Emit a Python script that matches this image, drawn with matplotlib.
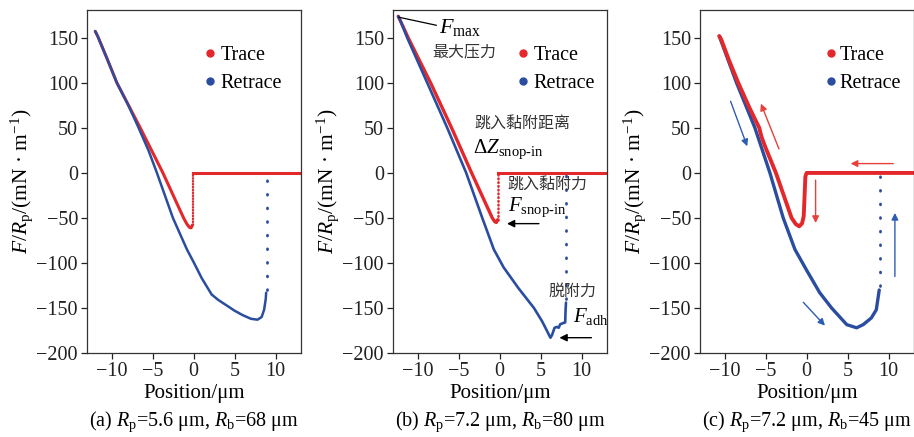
import numpy as np
import matplotlib
matplotlib.use("Agg")
import matplotlib.pyplot as plt
from matplotlib.lines import Line2D

plt.rcParams['font.family'] = ['Liberation Serif', 'Noto Sans CJK SC']
plt.rcParams['mathtext.fontset'] = 'custom'
plt.rcParams['mathtext.rm'] = 'Liberation Serif'
plt.rcParams['mathtext.it'] = 'Liberation Serif:italic'
plt.rcParams['axes.unicode_minus'] = True

RED = '#e3282c'
BLUE = '#2a4d9f'
CJK = ['Noto Sans CJK SC', 'DejaVu Sans']

# ---- panel (a) Rp=5.6, Rb=68
trace_a_x = [-12.0, -11.7, -10.6, -9.35, -6.5, -3.74, -1.22, -0.8, -0.5, -0.3, -0.15]
trace_a_y = [157.4, 152, 128, 100, 50, 0, -50, -57, -60.5, -61, -58]
flat_a_x = [-0.1, 13.2]
flat_a_y = [0, 0]
jump_a_trace = [-0.1, -58, 0]        # x, y from, y to (dotted)
retrace_a_x = [-12.0, -11.7, -10.6, -9.35, -8.0, -6.7, -5.5, -4.47, -2.52, -0.81, 0.0, 1.0, 2.2, 3.0,
               4.0, 5.0, 6.0, 7.0, 7.8, 8.3, 8.6, 8.8, 8.85]
retrace_a_y = [157.4, 152, 128, 100, 76, 50, 25, 0, -50, -85, -99, -117, -135, -141,
               -147, -153, -158, -162, -163, -160, -152, -140, -133]
jump_a_retrace = [8.9, -130, 0]

# ---- panel (b) Rp=7.2, Rb=80
trace_b_x = [-12.36, -12.0, -11.14, -8.41, -5.85, -3.41, -0.89, -0.6, -0.4, -0.25]
trace_b_y = [174, 167, 150, 100, 50, 0, -50, -54, -55, -52]
flat_b_x = [-0.2, 13.2]
flat_b_y = [0, 0]
jump_b_trace = [-0.2, -52, 0]
retrace_b_x = [-12.36, -12.0, -11.26, -8.82, -6.38, -4.07, -2.11, -0.7, 0.5, 2.3, 4.19, 5.2, 6.2,
               6.4, 6.7, 7.0, 7.2, 7.4, 7.7, 8.0, 8.05, 8.1]
retrace_b_y = [174, 167, 150, 100, 50, 0, -50, -85, -105, -128, -150, -165, -183,
               -180, -172, -171, -172, -168, -167, -166, -152, -144]
jump_b_retrace = [8.1, -140, 0]

# ---- panel (c) Rp=7.2, Rb=45
trace_c_x = [-10.65, -10.4, -9.5, -8.33, -7.0, -6.2, -5.77, -5.5, -5.0, -3.74, -1.83, -1.3, -0.9,
             -0.55, -0.35, -0.22, -0.15, 0.0, 13.2]
trace_c_y = [152, 148, 126, 100, 73, 58, 50, 40, 28, 0, -50, -57, -59.3,
             -56, -48, -20, -4, 0, 0]
retrace_c_x = [-10.65, -8.54, -6.3, -4.47, -2.85, -1.42, 0.0, 1.6, 3.05, 4.9, 6.1, 6.9, 7.9,
               8.5, 8.86]
retrace_c_y = [152, 100, 50, 0, -50, -85, -108, -133, -150, -168.5, -172, -168.5, -161,
               -152, -130]
jump_c_retrace = [8.9, -126, 0]

# arrows in (c): x0, y0, x1, y1
arrows_c_red = [(-3.37, 26.7, -5.57, 77), (10.57, 10.4, 5.37, 10.4), (1.1, -8, 1.1, -55.6)]
arrows_c_blue = [(-9.27, 79.6, -7.24, 29.6), (10.77, -115, 10.77, -44.4), (-0.4, -143.7, 2.24, -169.6)]

captions = [r'(a) $R_{\rm p}$=5.6 μm, $R_{\rm b}$=68 μm',
            r'(b) $R_{\rm p}$=7.2 μm, $R_{\rm b}$=80 μm',
            r'(c) $R_{\rm p}$=7.2 μm, $R_{\rm b}$=45 μm']
legend_x = [0.545, 0.578, 0.585]
legend_pad = [0.25, 0.25, 0.1]

fig = plt.figure(figsize=(9.14, 4.37), dpi=100)
lefts = [87 / 914, 393 / 914, 700 / 914]
axes = [fig.add_axes([l, 84 / 437, 214 / 914, 343 / 437]) for l in lefts]


def style(ax, i):
    ax.set_xlim(-13, 13.1)
    ax.set_ylim(-200, 181)
    ax.set_xticks([-10, -5, 0, 5, 10])
    ax.set_yticks([-200, -150, -100, -50, 0, 50, 100, 150])
    ax.tick_params(direction='out', length=4.5, width=0.9, labelsize=14.5, colors='#222222',
                   top=False, right=False, pad=2)
    for s in ax.spines.values():
        s.set_linewidth(0.9)
        s.set_color('#333333')
    ax.set_xlabel('Position/μm', fontsize=15, labelpad=2)
    ax.set_ylabel(r'$F/R_{\rm p}$/(mN · m$^{-1}$)', fontsize=15.5, labelpad=1)
    ax.text(0.5, -0.2, captions[i], transform=ax.transAxes, ha='center', va='center', fontsize=14.5)
    handles = [Line2D([], [], ls='none', marker='o', ms=5, color=RED),
               Line2D([], [], ls='none', marker='o', ms=5, color=BLUE)]
    ax.legend(handles, ['Trace', 'Retrace'], loc='upper left', bbox_to_anchor=(legend_x[i], 0.895),
              frameon=False, fontsize=14.5, handlelength=0.6, handletextpad=legend_pad[i],
              labelspacing=0.42, borderpad=0, borderaxespad=0)


def jump(ax, j, color, lw, gap):
    ax.plot([j[0], j[0]], [j[1], j[2]], color=color, lw=lw, dashes=(0.3, gap),
            dash_capstyle='round')


# (a)
ax = axes[0]
ax.plot(trace_a_x, trace_a_y, color=RED, lw=2.2, solid_capstyle='round')
ax.plot(flat_a_x, flat_a_y, color=RED, lw=2.2)
jump(ax, jump_a_trace, RED, 1.6, 1.0)
ax.plot(retrace_a_x, retrace_a_y, color=BLUE, lw=1.8, solid_capstyle='round')
jump(ax, jump_a_retrace, BLUE, 2.0, 4.6)
style(ax, 0)

# (b)
ax = axes[1]
ax.plot(trace_b_x, trace_b_y, color=RED, lw=2.4, solid_capstyle='round')
ax.plot(flat_b_x, flat_b_y, color=RED, lw=2.2)
jump(ax, jump_b_trace, RED, 1.8, 1.2)
ax.plot(retrace_b_x, retrace_b_y, color=BLUE, lw=1.9, solid_capstyle='round')
jump(ax, jump_b_retrace, BLUE, 2.0, 4.6)
style(ax, 1)
ax.annotate('', xy=(-12.3, 173), xytext=(-7.7, 164),
            arrowprops=dict(arrowstyle='-', color='black', lw=0.9, shrinkA=0, shrinkB=0))
ax.text(-7.4, 162, r'$F_{\rm max}$', fontsize=16, ha='left', va='center')
ax.text(-8.2, 135, '最大压力', family=CJK, fontsize=11.5, color='#333333', va='center')
ax.text(-3.1, 55.5, '跳入黏附距离', family=CJK, fontsize=11.5, color='#333333', va='center')
ax.text(-3.2, 26, r'$\Delta Z_{\rm snop\text{-}in}$', fontsize=15, ha='left', va='center')
ax.text(0.9, -13, '跳入黏附力', family=CJK, fontsize=11.5, color='#333333', va='center')
ax.text(1.0, -38, r'$F_{\rm snop\text{-}in}$', fontsize=15, ha='left', va='center')
ax.annotate('', xy=(0.9, -56.3), xytext=(4.8, -56.3),
            arrowprops=dict(arrowstyle='-|>', color='black', lw=1.0, mutation_scale=11,
                            shrinkA=0, shrinkB=0))
ax.text(6.0, -131.5, '脱附力', family=CJK, fontsize=11.5, color='#333333', va='center')
ax.text(9.0, -159, r'$F_{\rm adh}$', fontsize=15, ha='left', va='center')
ax.annotate('', xy=(7.3, -183), xytext=(11.2, -183),
            arrowprops=dict(arrowstyle='-|>', color='black', lw=1.0, mutation_scale=11,
                            shrinkA=0, shrinkB=0))

# (c)
ax = axes[2]
ax.plot(retrace_c_x, retrace_c_y, color=BLUE, lw=2.4, solid_capstyle='round')
jump(ax, jump_c_retrace, BLUE, 2.0, 4.6)
ax.plot(trace_c_x, trace_c_y, color=RED, lw=2.8, solid_capstyle='round')
for x0, y0, x1, y1 in arrows_c_red:
    ax.annotate('', xy=(x1, y1), xytext=(x0, y0),
                arrowprops=dict(arrowstyle='-|>', color='#e8413c', lw=1.0, mutation_scale=10,
                                shrinkA=0, shrinkB=0))
for x0, y0, x1, y1 in arrows_c_blue:
    ax.annotate('', xy=(x1, y1), xytext=(x0, y0),
                arrowprops=dict(arrowstyle='-|>', color='#2d5db3', lw=1.0, mutation_scale=10,
                                shrinkA=0, shrinkB=0))
style(ax, 2)

fig.savefig('out.png', dpi=100)
